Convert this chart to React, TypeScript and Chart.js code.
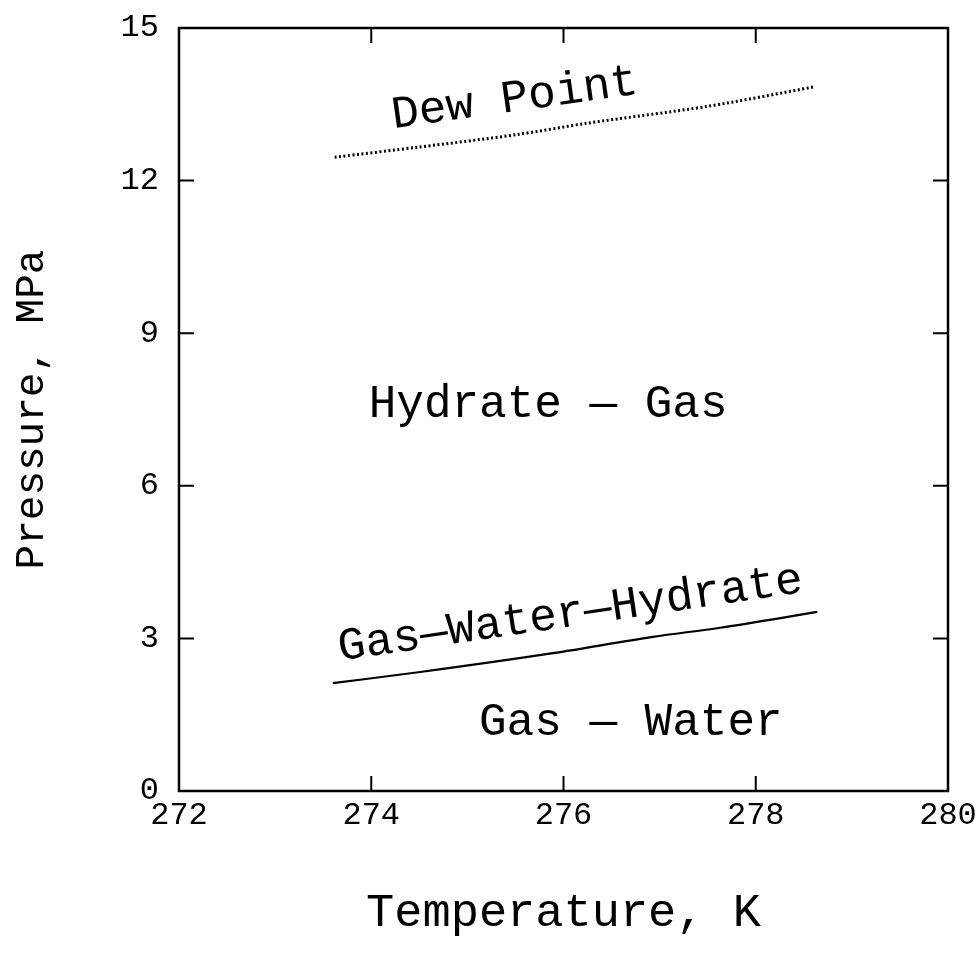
import React, { useEffect, useRef } from "react";
import { Chart, registerables } from "chart.js";

Chart.register(...registerables);

// Dew point curve
const dewT = [273.62, 274.5, 275.5, 276.25, 277.5, 278.6];
const dewP = [12.46, 12.66, 12.9, 13.13, 13.46, 13.84];

// Gas-Water-Hydrate equilibrium curve
const gwhT = [273.6, 274.51, 275.89, 276.93, 277.63, 278.64];
const gwhP = [2.12, 2.34, 2.71, 3.03, 3.21, 3.52];

// Axis ranges / ticks
const xMin = 272;
const xMax = 280;
const xStep = 2;
const yMin = 0;
const yMax = 15;
const yStep = 3;

// Region / curve labels: text, T, P, rotation in degrees
const labelTexts = ["Dew Point", "Hydrate \u2014 Gas", "Gas\u2014Water\u2014Hydrate", "Gas \u2014 Water"];
const labelT = [275.51, 275.84, 276.09, 276.7];
const labelP = [13.37, 7.35, 3.24, 1.1];
const labelRot = [-8, 0, -8.4, 0];

const FONT = "'Liberation Mono', 'Courier New', 'DejaVu Sans Mono', monospace";

const framePlugin = {
  id: "frameTicks",
  afterDatasetsDraw(chart: any) {
    const { ctx, chartArea } = chart;
    const xs = chart.scales.x;
    const ys = chart.scales.y;
    const { left, right, top, bottom } = chartArea;
    ctx.save();
    ctx.strokeStyle = "#000";
    ctx.lineWidth = 2.5;
    ctx.strokeRect(left, top, right - left, bottom - top);
    const len = 15;
    ctx.lineWidth = 2;
    ctx.beginPath();
    for (let v = xMin + xStep; v < xMax; v += xStep) {
      const px = xs.getPixelForValue(v);
      ctx.moveTo(px, bottom);
      ctx.lineTo(px, bottom - len);
      ctx.moveTo(px, top);
      ctx.lineTo(px, top + len);
    }
    for (let v = yMin + yStep; v < yMax; v += yStep) {
      const py = ys.getPixelForValue(v);
      ctx.moveTo(left, py);
      ctx.lineTo(left + len, py);
      ctx.moveTo(right, py);
      ctx.lineTo(right - len, py);
    }
    ctx.stroke();

    // labels
    ctx.fillStyle = "#000";
    ctx.font = `46px ${FONT}`;
    ctx.textAlign = "center";
    ctx.textBaseline = "alphabetic";
    for (let i = 0; i < labelTexts.length; i++) {
      const px = xs.getPixelForValue(labelT[i]);
      const py = ys.getPixelForValue(labelP[i]);
      ctx.save();
      ctx.translate(px, py);
      ctx.rotate((labelRot[i] * Math.PI) / 180);
      ctx.fillText(labelTexts[i], 0, 0);
      ctx.restore();
    }
    ctx.restore();
  },
};

export default function App() {
  const ref = useRef<HTMLCanvasElement | null>(null);
  useEffect(() => {
    if (!ref.current) return;
    const chart = new Chart(ref.current, {
      type: "line",
      data: {
        datasets: [
          {
            label: "Dew Point",
            data: dewT.map((t, i) => ({ x: t, y: dewP[i] })),
            borderColor: "#000",
            borderWidth: 3,
            borderDash: [2, 2.5],
            pointRadius: 0,
            tension: 0.3,
            fill: false,
          },
          {
            label: "Gas-Water-Hydrate",
            data: gwhT.map((t, i) => ({ x: t, y: gwhP[i] })),
            borderColor: "#000",
            borderWidth: 2.2,
            pointRadius: 0,
            cubicInterpolationMode: "monotone",
            fill: false,
          },
        ],
      },
      options: {
        animation: false,
        responsive: true,
        maintainAspectRatio: false,
        layout: { padding: { top: 28, right: 31, left: 0, bottom: 0 } },
        plugins: { legend: { display: false }, tooltip: { enabled: false } },
        scales: {
          x: {
            type: "linear",
            min: xMin,
            max: xMax,
            grid: { display: false, drawTicks: false },
            border: { display: false },
            ticks: {
              stepSize: xStep,
              color: "#000",
              padding: 5,
              font: { family: FONT, size: 32 },
              maxRotation: 0,
            },
            title: {
              display: true,
              text: "Temperature, K",
              color: "#000",
              font: { family: FONT, size: 47 },
              padding: { top: 0, bottom: 20 },
            },
            afterFit(scale: any) {
              scale.height = 171;
              scale.paddingLeft = 0;
              scale.paddingRight = 0;
            },
          },
          y: {
            type: "linear",
            min: yMin,
            max: yMax,
            grid: { display: false, drawTicks: false },
            border: { display: false },
            ticks: {
              stepSize: yStep,
              color: "#000",
              padding: 20,
              font: { family: FONT, size: 32 },
            },
            title: {
              display: true,
              text: "Pressure, MPa",
              color: "#000",
              font: { family: FONT, size: 41 },
              padding: { top: 8, bottom: 0 },
            },
            afterFit(scale: any) {
              scale.width = 179;
              scale.paddingTop = 0;
              scale.paddingBottom = 0;
            },
          },
        },
      },
      plugins: [framePlugin],
    } as any);
    return () => chart.destroy();
  }, []);
  return (
    <div style={{ position: "absolute", left: 0, top: 0, width: 979, height: 962, background: "#fff" }}>
      <canvas ref={ref} />
    </div>
  );
}
